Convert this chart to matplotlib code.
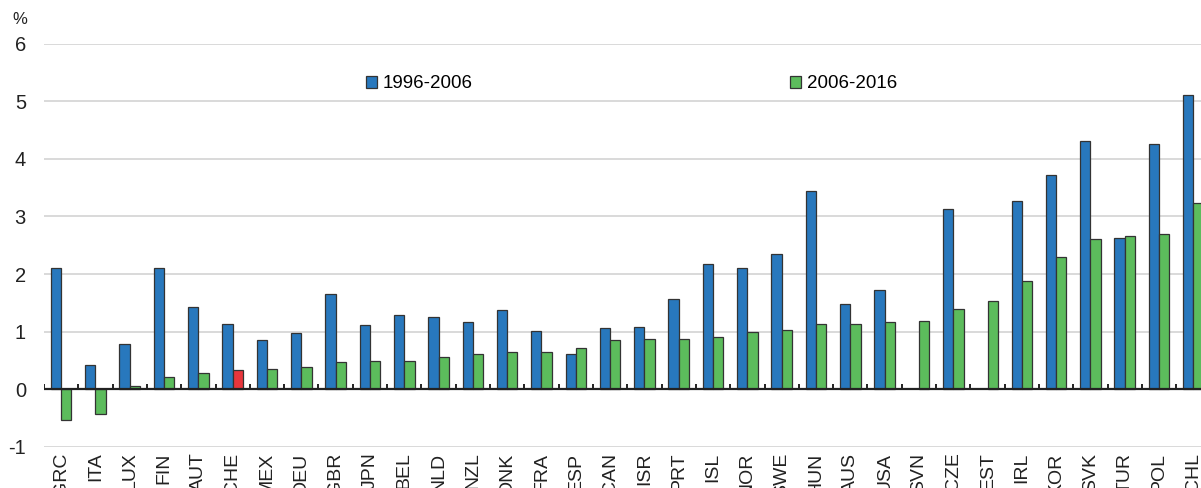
import numpy as np
import matplotlib
matplotlib.use("Agg")
import matplotlib.pyplot as plt

plt.rcParams["font.family"] = ["Liberation Sans", "DejaVu Sans"]
plt.rcParams["axes.unicode_minus"] = False

countries = ["GRC", "ITA", "LUX", "FIN", "AUT", "CHE", "MEX", "DEU", "GBR", "JPN",
             "BEL", "NLD", "NZL", "DNK", "FRA", "ESP", "CAN", "ISR", "PRT", "ISL",
             "NOR", "SWE", "HUN", "AUS", "USA", "SVN", "CZE", "EST", "IRL", "KOR",
             "SVK", "TUR", "POL", "CHL"]
growth_96_06 = [2.10, 0.42, 0.79, 2.11, 1.43, 1.13, 0.86, 0.97, 1.66, 1.11,
                1.29, 1.25, 1.17, 1.38, 1.01, 0.62, 1.06, 1.08, 1.57, 2.18,
                2.11, 2.34, 3.44, 1.48, 1.73, np.nan, 3.13, np.nan, 3.26, 3.72,
                4.30, 2.62, 4.25, 5.10]
growth_06_16 = [-0.54, -0.42, 0.05, 0.21, 0.28, 0.34, 0.36, 0.39, 0.48, 0.50,
                0.50, 0.57, 0.61, 0.64, 0.64, 0.71, 0.85, 0.87, 0.87, 0.91,
                1.00, 1.03, 1.14, 1.14, 1.17, 1.18, 1.39, 1.53, 1.88, 2.29,
                2.60, 2.66, 2.69, 3.24]
highlight = "CHE"

blue = "#2878bd"
green = "#5cbc5c"
red = "#e8363c"
edge = "#333333"

fig = plt.figure(figsize=(12.01, 4.88), dpi=100)
ax = fig.add_axes([44 / 1201, 1 - 447 / 488, 34 * 34.31 / 1201, (447 - 43.5) / 488])

x = np.arange(len(countries))
w = 0.3
ax.bar(x - w / 2, growth_96_06, width=w, color=blue, edgecolor=edge, linewidth=0.9,
       label="1996-2006", zorder=3)
green_cols = [red if c == highlight else green for c in countries]
ax.bar(x + w / 2, growth_06_16, width=w, color=green_cols, edgecolor=edge,
       linewidth=0.9, label="2006-2016", zorder=3)

ax.set_xlim(-0.5, len(countries) - 0.5)
ax.set_ylim(-1, 6)
ax.set_yticks(range(-1, 7))
ax.yaxis.grid(True, color="#d3d3d3", linewidth=1.2, zorder=0)
ax.set_axisbelow(True)
for s in ax.spines.values():
    s.set_visible(False)

# zero line with small separators between country groups
ax.axhline(0, color="#222222", linewidth=1.6, zorder=4)
ax.vlines(np.arange(len(countries) + 1) - 0.5, 0, 0.1, color="#222222", linewidth=1.4, zorder=4)

ax.set_xticks(x)
ax.set_xticklabels(countries, rotation=90, va="top")
ax.tick_params(axis="x", length=0, pad=4, labelsize=14, colors="#222222")
ax.tick_params(axis="y", length=0, pad=13, labelsize=14.5, colors="#222222")

ax.text(-0.0206, 1.04, "%", transform=ax.transAxes, fontsize=12, color="#222222",
        ha="center", va="bottom")

leg = ax.legend(loc="center left", bbox_to_anchor=(322 / (34 * 34.31), 0.9), ncol=2,
                frameon=False, fontsize=13.5, handlelength=0.6, handleheight=0.6,
                handletextpad=0.3, columnspacing=16.9, borderpad=0, borderaxespad=0)
leg.legend_handles[1].set_facecolor(green)

fig.savefig("out.png", dpi=100)
